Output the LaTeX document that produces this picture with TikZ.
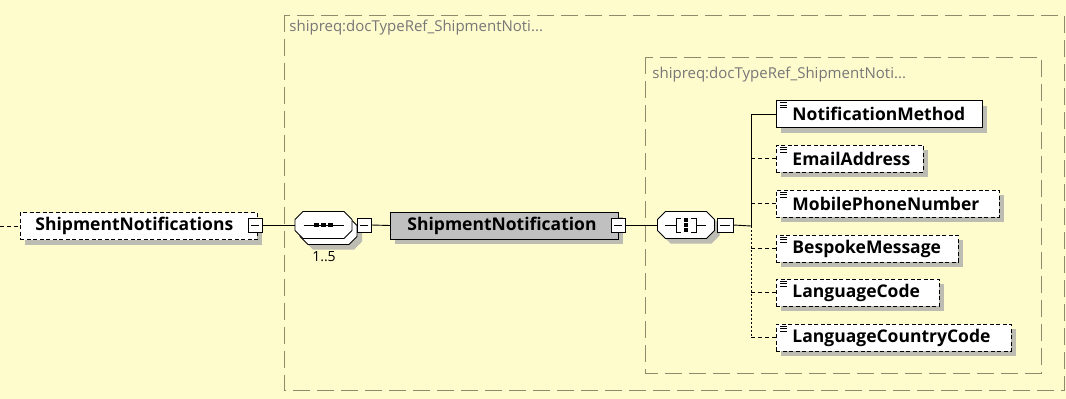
\documentclass[tikz,border=0pt]{standalone}
\usepackage{fontspec}
\setmainfont{Open Sans}
\usetikzlibrary{shadows}
\definecolor{bgyellow}{HTML}{FEFBCD}
\definecolor{frameline}{HTML}{8C8B6C}
\definecolor{labelgray}{HTML}{777777}
\definecolor{shadowgray}{HTML}{BDBCB2}
\definecolor{typegray}{HTML}{C0C0C0}
\begin{document}
\begin{tikzpicture}[x=1pt, y=-1pt, line width=0.9pt,
    every node/.style={font=\fontsize{17.5}{19}\selectfont\bfseries},
    shad/.style={drop shadow={shadow xshift=5pt, shadow yshift=-5pt, fill=shadowgray, opacity=1}},
    elem/.style={rectangle, draw, fill=white, shad, minimum height=27pt, inner xsep=0pt, inner ysep=0pt, align=left, anchor=west},
    optelem/.style={elem, dash pattern=on 4pt off 2.5pt},
    octa/.style={rectangle, minimum width=57pt, minimum height=27pt, inner sep=0pt},
    octpath/.style={insert path={(-20.5,-13.5) -- (20.5,-13.5) -- (28.5,-5.5) -- (28.5,5.5) -- (20.5,13.5) -- (-20.5,13.5) -- (-28.5,5.5) -- (-28.5,-5.5) -- cycle}},
    minusbox/.style={rectangle, draw, fill=white, minimum size=14pt, inner sep=0pt, line width=0.8pt,
        path picture={\draw[line width=0.8pt] ([xshift=3pt]path picture bounding box.west) -- ([xshift=-3pt]path picture bounding box.east);}},
    frame/.style={draw=frameline, line width=0.9pt, dash pattern=on 17pt off 7pt},
    grouplabel/.style={font=\fontsize{15}{17}\selectfont, text=labelgray, anchor=west, inner sep=0pt},
    optline/.style={dash pattern=on 4pt off 3pt}]
    % 1. background and the two group frames
    \useasboundingbox (0,0) rectangle (1066,399);
    \fill[bgyellow] (0,0) rectangle (1066,399);
    \draw[frame] (284,15) rectangle (1064,390);
    \draw[frame] (645,57) rectangle (1041,373);
    \node[grouplabel] (outerlbl) at (289,28) {shipreq:docTypeRef\_ShipmentNoti...};
    \node[grouplabel] (innerlbl) at (652,75) {shipreq:docTypeRef\_ShipmentNoti...};

    % 2. main chain of nodes
    \coordinate (lead) at (0,226);
    \node[optelem, text width=237pt] (sns) at (20,226) {\hspace*{15pt}ShipmentNotifications};
    \node[octa] (seqback) at (328.5,231) {};
    \node[octa] (seq) at (323.5,225) {};
    \node[octa] (cho) at (686,225) {};
    \begin{scope}[shift={(seqback.center)}]
        \fill[shadowgray, shift={(5,5)}, octpath];
        \draw[fill=white, octpath];
    \end{scope}
    \begin{scope}[shift={(seq.center)}]
        \draw[fill=white, octpath];
        \draw (-20,0) -- (20,0);
        \foreach \d in {-7,0,7}
            \fill (\d-2.5,-2) rectangle (\d+2.5,2);
    \end{scope}
    \begin{scope}[shift={(cho.center)}]
        \fill[shadowgray, shift={(5,5)}, octpath];
        \draw[fill=white, octpath];
        \draw (-21,0) -- (-10,0) (10,0) -- (20,0);
        \draw (-5,-7) -- (-10,-7) -- (-10,7) -- (-5,7);
        \draw (5,-7) -- (10,-7) -- (10,7) -- (5,7);
        \foreach \d in {-5,0,5}
            \fill (-1.6,\d-1.6) rectangle (1.6,\d+1.6);
    \end{scope}
    \node[minusbox] (m1) at (255,225) {};
    \node[minusbox] (m2) at (364,225) {};
    \node[font=\fontsize{14}{16}\selectfont] (occ) at (324,257) {1..5};
    \node[elem, fill=typegray, text width=228pt] (sn) at (390,225.5) {\hspace*{17pt}ShipmentNotification};
    \node[minusbox] (m3) at (618,225) {};
    \node[minusbox, minimum width=16pt] (m4) at (725,225) {};
    \coordinate (trunk) at (751,226);

    % 3. child elements
    \node[elem, text width=206pt] (nm) at (776,114) {\hspace*{16pt}NotificationMethod};
    \node[optelem, text width=147pt] (ea) at (776,158.5) {\hspace*{16pt}EmailAddress};
    \node[optelem, text width=223pt] (mpn) at (776,203.5) {\hspace*{16pt}MobilePhoneNumber};
    \node[optelem, text width=182pt] (bm) at (776,248.5) {\hspace*{16pt}BespokeMessage};
    \node[optelem, text width=163pt] (lc) at (776,292.5) {\hspace*{16pt}LanguageCode};
    \node[optelem, text width=235pt] (lcc) at (776,337.5) {\hspace*{16pt}LanguageCountryCode};
    \foreach \c in {nm,ea,mpn,bm,lc,lcc}
        \foreach \k in {2.5,5,7.5}
            \draw[line width=0.7pt] ([xshift=4pt,yshift=-\k pt]\c.north west) -- ++(7,0);

    % 4. connectors
    \draw[optline] (lead) -- (sns.west);
    \draw (m1.east) -- (seq.west);
    \draw (m2.east) -- (sn.west);
    \draw (m3.east) -- (cho.west);
    \draw (m4.east) -- (trunk);
    \draw (nm.west) -| (trunk);
    \draw[dash pattern=on 2pt off 2pt] (trunk) -- (trunk |- lcc.west);
    \foreach \c in {ea,mpn,bm,lc,lcc}
        \draw[optline] (trunk |- \c.west) -- (\c.west);
\end{tikzpicture}
\end{document}
